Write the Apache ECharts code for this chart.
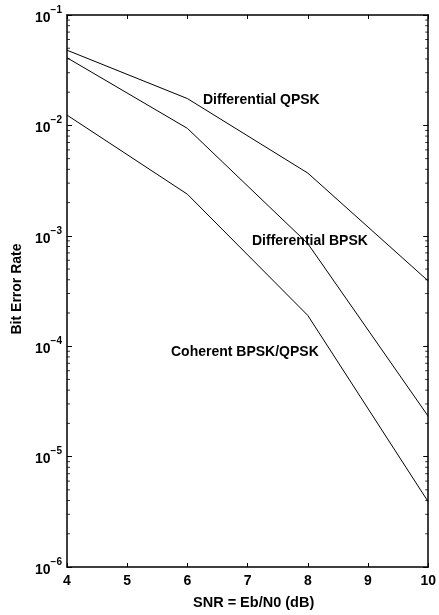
<!DOCTYPE html>
<html>
<head>
<meta charset="utf-8">
<script src="https://cdn.jsdelivr.net/npm/echarts@6/dist/echarts.min.js"></script>
<style>
  html, body { margin: 0; padding: 0; background: #fff; }
  #chart { width: 439px; height: 615px; }
</style>
</head>
<body>
<div id="chart"></div>
<script>
// SNR points (dB) and bit error rates for each modulation scheme
const snr = [4, 6, 8, 10];
const diffQPSK = [0.048, 0.0175, 0.0037, 0.00039];
const diffBPSK = [0.041, 0.0094, 0.00085, 0.0000232];
const cohBPSK = [0.0124, 0.00238, 0.00019, 0.0000039];

// Minor tick positions on the log axis (2..9 within each decade)
const minorTickValues = [];
for (let e = -6; e < -1; e++) {
  for (let m = 2; m <= 9; m++) minorTickValues.push(m * Math.pow(10, e));
}

const FONT = '"Liberation Sans", Arial, Helvetica, sans-serif';

function pairs(ys) { return snr.map((x, i) => [x, ys[i]]); }

const chart = echarts.init(document.getElementById('chart'), null, { renderer: 'canvas' });

const lineStyle = { color: '#000', width: 1 };

const yLabel = {
  fontFamily: FONT,
  color: '#000',
  formatter: v => '{b|10}{s|' + Math.round(Math.log10(v)).toString().replace('-', '\u2212') + '}',
  rich: {
    b: { fontSize: 14, fontWeight: 'bold', fontFamily: FONT, color: '#000', padding: [6, 0, 0, 0] },
    s: { fontSize: 10, fontWeight: 'bold', fontFamily: FONT, color: '#000', verticalAlign: 'top', padding: [0, 0, 6, 0] }
  },
  margin: 5
};

chart.setOption({
  animation: false,
  grid: { left: 67, right: 2, top: 15, bottom: 46, containLabel: false },
  xAxis: [{
    type: 'value', min: 4, max: 10, interval: 1,
    axisLine: { lineStyle: { color: '#000', width: 1.5 } },
    axisTick: { inside: true, length: 4, lineStyle: { color: '#000' } },
    axisLabel: { fontFamily: FONT, fontSize: 14, fontWeight: 'bold', color: '#000', margin: 7 },
    splitLine: { show: false },
    name: 'SNR = Eb/N0 (dB)', nameLocation: 'middle', nameGap: 28,
    nameTextStyle: { fontFamily: FONT, fontSize: 14.5, fontWeight: 'bold', color: '#000', padding: [0, 0, 0, 12] }
  }, {
    type: 'value', min: 4, max: 10, interval: 1, position: 'top',
    axisLine: { lineStyle: { color: '#000', width: 1.5 } },
    axisTick: { inside: true, length: 4, lineStyle: { color: '#000' } },
    axisLabel: { show: false },
    splitLine: { show: false }
  }],
  yAxis: [{
    type: 'log', logBase: 10, min: 1e-6, max: 1e-1, interval: 1,
    axisLine: { show: true, lineStyle: { color: '#000', width: 1.5 } },
    axisTick: { show: true, inside: true, length: 5, lineStyle: { color: '#000' } },
    axisLabel: yLabel,
    splitLine: { show: false },
    name: 'Bit Error Rate', nameLocation: 'middle', nameGap: 42, nameRotate: 90,
    nameTextStyle: { fontFamily: FONT, fontSize: 14, fontWeight: 'bold', color: '#000', padding: [0, 0, 0, 4] }
  }, {
    type: 'log', logBase: 10, min: 1e-6, max: 1e-1, interval: 1, position: 'right',
    axisLine: { show: true, lineStyle: { color: '#000', width: 1.5 } },
    axisTick: { show: true, inside: true, length: 5, lineStyle: { color: '#000' } },
    axisLabel: { show: false },
    splitLine: { show: false }
  }],
  series: [
    { name: 'Differential QPSK', type: 'line', data: pairs(diffQPSK), symbol: 'none', lineStyle, silent: true },
    { name: 'Differential BPSK', type: 'line', data: pairs(diffBPSK), symbol: 'none', lineStyle, silent: true },
    { name: 'Coherent BPSK/QPSK', type: 'line', data: pairs(cohBPSK), symbol: 'none', lineStyle, silent: true },
    // minor log ticks along the left and right frame edges
    { type: 'scatter', data: minorTickValues.map(v => [4, v]), symbol: 'rect', symbolSize: [3, 1],
      symbolOffset: [1.5, 0], itemStyle: { color: '#000' }, clip: false, silent: true },
    { type: 'scatter', data: minorTickValues.map(v => [10, v]), symbol: 'rect', symbolSize: [3, 1],
      symbolOffset: [-1.5, 0], itemStyle: { color: '#000' }, clip: false, silent: true }
  ],
  graphic: [
    { type: 'text', left: 203, top: 93, style: { text: 'Differential QPSK', font: 'bold 14px ' + FONT, fill: '#000' } },
    { type: 'text', left: 252, top: 234, style: { text: 'Differential BPSK', font: 'bold 14px ' + FONT, fill: '#000' } },
    { type: 'text', left: 171, top: 345, style: { text: 'Coherent BPSK/QPSK', font: 'bold 14px ' + FONT, fill: '#000' } }
  ]
});
</script>
</body>
</html>
